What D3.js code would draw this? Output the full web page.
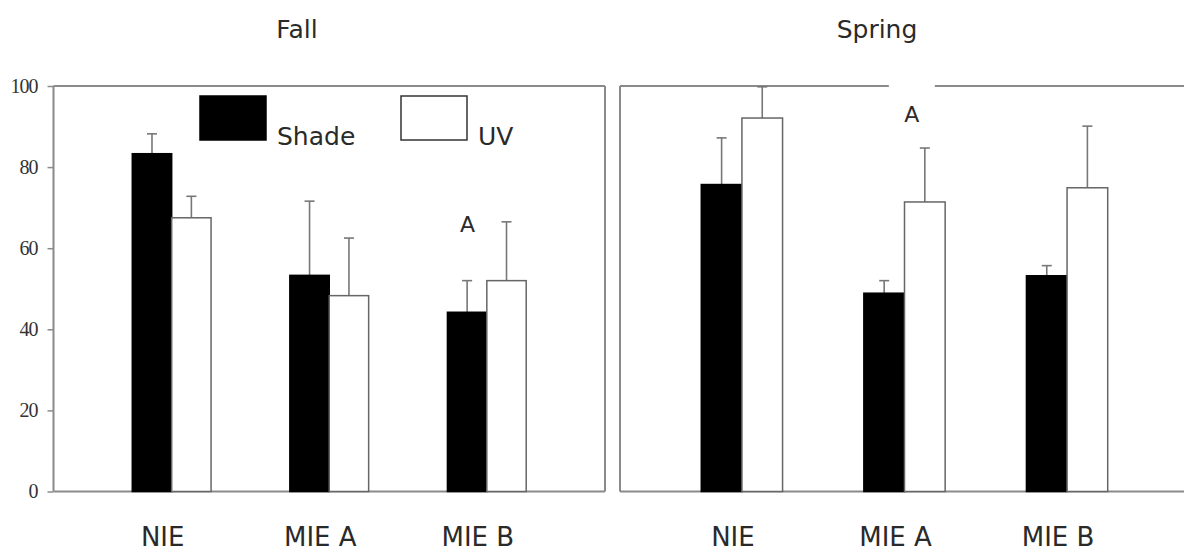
<!DOCTYPE html>
<html>
<head>
<meta charset="utf-8">
<script src="https://cdn.jsdelivr.net/npm/d3@7"></script>
<style>
  body { margin: 0; background: #fff; }
  text { font-family: "DejaVu Sans", sans-serif; fill: #2a2a2a; }
  .tick-label { font-family: "Liberation Serif", serif; font-size: 20px; fill: #333; letter-spacing: -1px; }
</style>
</head>
<body>
<div id="chart"></div>
<script>
// data
var categories = ["NIE", "MIE A", "MIE B"];
var series = ["Shade", "UV"];
var fallShade = [83.3, 53.3, 44.2];
var fallShadeErr = [4.9, 18.3, 7.8];
var fallUV = [67.5, 48.3, 52.0];
var fallUVErr = [5.3, 14.2, 14.5];
var springShade = [75.7, 48.9, 53.2];
var springShadeErr = [11.5, 3.1, 2.5];
var springUV = [92.1, 71.4, 74.9];
var springUVErr = [7.7, 13.3, 15.2];
var yTicks = [0, 20, 40, 60, 80, 100];

var width = 1184, height = 553;

var svg = d3.select("#chart").append("svg")
    .attr("width", width)
    .attr("height", height);

// shared y scale
var y = d3.scaleLinear().domain([0, 100]).range([491.5, 86]);

var fill = { Shade: "#000", UV: "#fff" };
var stroke = { Shade: "#000", UV: "#666" };

function buildRows(shade, shadeErr, uv, uvErr) {
  var rows = [];
  categories.forEach(function(c, i) {
    rows.push({ cat: c, s: "Shade", v: shade[i], e: shadeErr[i] });
    rows.push({ cat: c, s: "UV", v: uv[i], e: uvErr[i] });
  });
  return rows;
}

function drawPanel(p) {
  var x = d3.scaleBand().domain(categories).range([p.x0, p.x1])
      .paddingInner(0.5).paddingOuter(0.5);
  var xs = d3.scaleBand().domain(series).range([0, x.bandwidth()]);

  var g = svg.append("g");

  // title
  g.append("text")
    .attr("x", p.titleX)
    .attr("y", 38)
    .attr("text-anchor", "middle")
    .style("font-size", "25px")
    .text(p.title);

  // frame
  var frame = g.append("g").attr("stroke", "#8a8a8a").attr("stroke-width", 2).attr("fill", "none");
  frame.append("line").attr("x1", p.x0).attr("x2", p.x0).attr("y1", y(100)).attr("y2", y(0));
  frame.append("line").attr("x1", p.x0).attr("x2", p.frameRight).attr("y1", y(0)).attr("y2", y(0));
  frame.append("line").attr("x1", p.x0).attr("x2", p.frameRight).attr("y1", y(100)).attr("y2", y(100));
  if (p.rightBorder) {
    frame.append("line").attr("x1", p.frameRight).attr("x2", p.frameRight).attr("y1", y(100)).attr("y2", y(0));
  }

  var rows = buildRows(p.shade, p.shadeErr, p.uv, p.uvErr);

  // error bars (drawn first so bars sit on top)
  var eb = g.append("g").attr("stroke", "#777").attr("stroke-width", 1.6);
  rows.forEach(function(d) {
    var cx = x(d.cat) + xs(d.s) + xs.bandwidth() / 2;
    eb.append("line").attr("x1", cx).attr("x2", cx)
      .attr("y1", y(d.v)).attr("y2", y(d.v + d.e));
    eb.append("line").attr("x1", cx - 5).attr("x2", cx + 5)
      .attr("y1", y(d.v + d.e)).attr("y2", y(d.v + d.e));
  });

  // bars
  g.append("g").selectAll("rect")
    .data(rows)
    .enter().append("rect")
      .attr("x", function(d) { return x(d.cat) + xs(d.s); })
      .attr("y", function(d) { return y(d.v); })
      .attr("width", xs.bandwidth())
      .attr("height", function(d) { return y(0) - y(d.v); })
      .attr("fill", function(d) { return fill[d.s]; })
      .attr("stroke", function(d) { return stroke[d.s]; })
      .attr("stroke-width", 1.5);

  // category labels
  g.append("g").selectAll("text.cat")
    .data(categories)
    .enter().append("text")
      .attr("class", "cat")
      .attr("x", function(d) { return x(d) + x.bandwidth() / 2 - 9; })
      .attr("y", 546)
      .attr("text-anchor", "middle")
      .style("font-size", "26px")
      .text(function(d) { return d; });

  // significance letter
  var ax = x(p.letterCat) + p.letterDx;
  if (p.letterGap) {
    g.append("rect")
      .attr("x", ax - 23).attr("y", y(100) - 4)
      .attr("width", 46).attr("height", 8)
      .attr("fill", "#fff");
  }
  g.append("text")
    .attr("x", ax)
    .attr("y", y(p.letterY))
    .attr("text-anchor", "middle")
    .style("font-size", "22px")
    .text("A");

  return x;
}

drawPanel({
  title: "Fall", titleX: 297,
  x0: 53.5, x1: 605, frameRight: 605, rightBorder: true,
  shade: fallShade, shadeErr: fallShadeErr, uv: fallUV, uvErr: fallUVErr,
  letterCat: "MIE B", letterDx: 20, letterY: 64, letterGap: false
});

drawPanel({
  title: "Spring", titleX: 877,
  x0: 620, x1: 1189, frameRight: 1184, rightBorder: false,
  shade: springShade, shadeErr: springShadeErr, uv: springUV, uvErr: springUVErr,
  letterCat: "MIE A", letterDx: 48, letterY: 91, letterGap: true
});

// y axis for the Fall panel
var yAxis = d3.axisLeft(y).tickValues(yTicks).tickSize(6).tickPadding(10);
var ga = svg.append("g").attr("transform", "translate(53.5,0)").call(yAxis);
ga.select(".domain").remove();
ga.selectAll(".tick line").attr("stroke", "#8a8a8a").attr("stroke-width", 1.5);
ga.selectAll(".tick text").attr("class", "tick-label").attr("fill", "#333");

// legend
var legend = svg.append("g").attr("transform", "translate(200,96)");
series.forEach(function(s, i) {
  var lg = legend.append("g").attr("transform", "translate(" + (i * 201) + ",0)");
  lg.append("rect")
    .attr("width", 66).attr("height", 44)
    .attr("fill", fill[s])
    .attr("stroke", s === "UV" ? "#333" : "#000")
    .attr("stroke-width", 1.5);
  lg.append("text")
    .attr("x", 77).attr("y", 49)
    .style("font-size", "25px")
    .text(s);
});
</script>
</body>
</html>
